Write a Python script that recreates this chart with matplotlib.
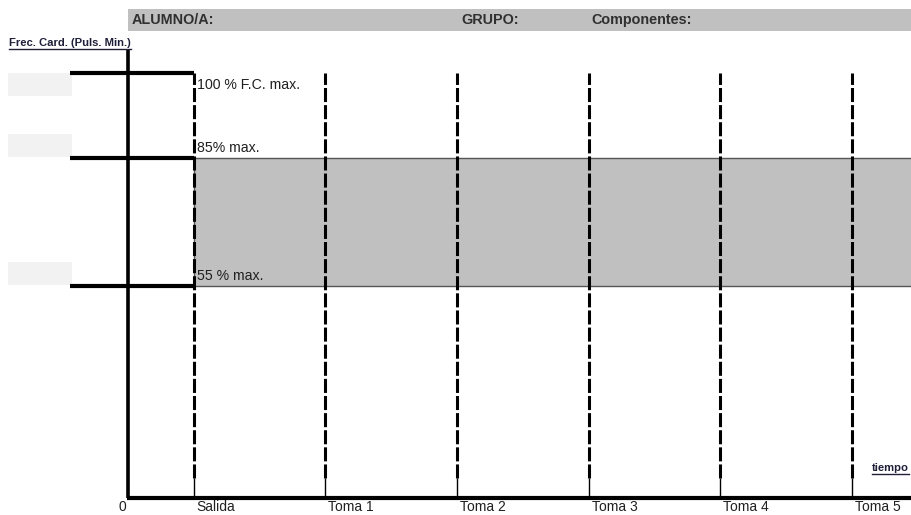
import matplotlib.pyplot as plt
from matplotlib.patches import Rectangle

# worksheet data
categories = ["Salida", "Toma 1", "Toma 2", "Toma 3", "Toma 4", "Toma 5"]
cat_x = [0.5, 1.5, 2.5, 3.5, 4.5, 5.5]
levels = [100, 85, 55]
level_labels = ["100 % F.C. max.", "85% max.", "55 % max."]
level_y = [10, 8, 5]
header_labels = ["ALUMNO/A:", "GRUPO:", "Componentes:"]
header_x = [0.03, 2.53, 3.52]

W, H = 912, 515
px_x = 131.6   # pixels per category step
px_y = 42.5    # pixels per y unit
x0_px, y0_px = 128, 498

fig = plt.figure(figsize=(W / 100, H / 100), dpi=100)
ax = fig.add_axes([0, 0, 1, 1])
ax.set_xlim(-x0_px / px_x, (W - x0_px) / px_x)
ax.set_ylim(-(H - y0_px) / px_y, y0_px / px_y)
ax.axis("off")
xmin, xmax = ax.get_xlim()
ymin, ymax = ax.get_ylim()

def px2x(p):
    return (p - x0_px) / px_x

def px2y(p):
    return (y0_px - p) / px_y

plt.rcParams["font.family"] = ["Liberation Sans", "DejaVu Sans"]

# header bar
ax.add_patch(Rectangle((0, px2y(31)), xmax, px2y(9) - px2y(31), color="#c0c0c0", lw=0))
for lab, hx in zip(header_labels, header_x):
    ax.text(hx, (px2y(9) + px2y(31)) / 2, lab, fontsize=10.4, fontweight="bold",
            color="#303030", va="center", ha="left")

# band between 55% and 85%
ax.add_patch(Rectangle((cat_x[0], level_y[2]), xmax - cat_x[0], level_y[1] - level_y[2],
                       facecolor="#c0c0c0", edgecolor="#555555", lw=1.0))

# light boxes on the left
box_h = 23 / px_y
for i, ly in enumerate(level_y):
    by = ly - box_h if i == 0 else ly + 1 / px_y
    ax.add_patch(Rectangle((px2x(8), by), px2x(72) - px2x(8), box_h, color="#f2f2f2", lw=0))

# dashed verticals with thin tick at the bottom
tick_top = 0.47
for cx in cat_x:
    ax.plot([cx, cx], [0, tick_top], color="black", lw=1.0, solid_capstyle="butt")
    ax.plot([cx, cx], [tick_top, level_y[0]], color="black", lw=2.2,
            linestyle=(0, (4.6, 1.0)))

# thick level lines
for ly, lab in zip(level_y, level_labels):
    ax.plot([px2x(70), cat_x[0]], [ly, ly], color="black", lw=3.0, solid_capstyle="butt")
    off = -12 / px_y if ly == level_y[0] else 10 / px_y
    ax.text(cat_x[0] + 3 / px_x, ly + off, lab, fontsize=10.2, color="#202020",
            va="center", ha="left")

# axes lines
ax.plot([0, 0], [0, px2y(50)], color="black", lw=2.6, solid_capstyle="butt")
ax.plot([-1.3 / px_x, xmax], [0, 0], color="black", lw=3.0, solid_capstyle="butt")

# x tick labels
ax.text(px2x(122), px2y(507), "0", fontsize=10, color="#202020", va="center", ha="center")
for cx, cat in zip(cat_x, categories):
    ax.text(cx + 3 / px_x, px2y(507), cat, fontsize=10, color="#202020", va="center", ha="left")

# underlined bold captions
fig.canvas.draw()
r = fig.canvas.get_renderer()
for s, tx, ty in [("Frec. Card. (Puls. Min.)", px2x(9), px2y(43)),
                  ("tiempo", px2x(872), px2y(468))]:
    t = ax.text(tx, ty, s, fontsize=8.1, fontweight="bold", color="#1f1f3a",
                va="center", ha="left")
    bb = t.get_window_extent(renderer=r).transformed(ax.transData.inverted())
    ax.plot([bb.x0, bb.x1], [bb.y0 - 0.03, bb.y0 - 0.03], color="#1f1f3a", lw=1.0)

fig.savefig("out.png", dpi=100)
